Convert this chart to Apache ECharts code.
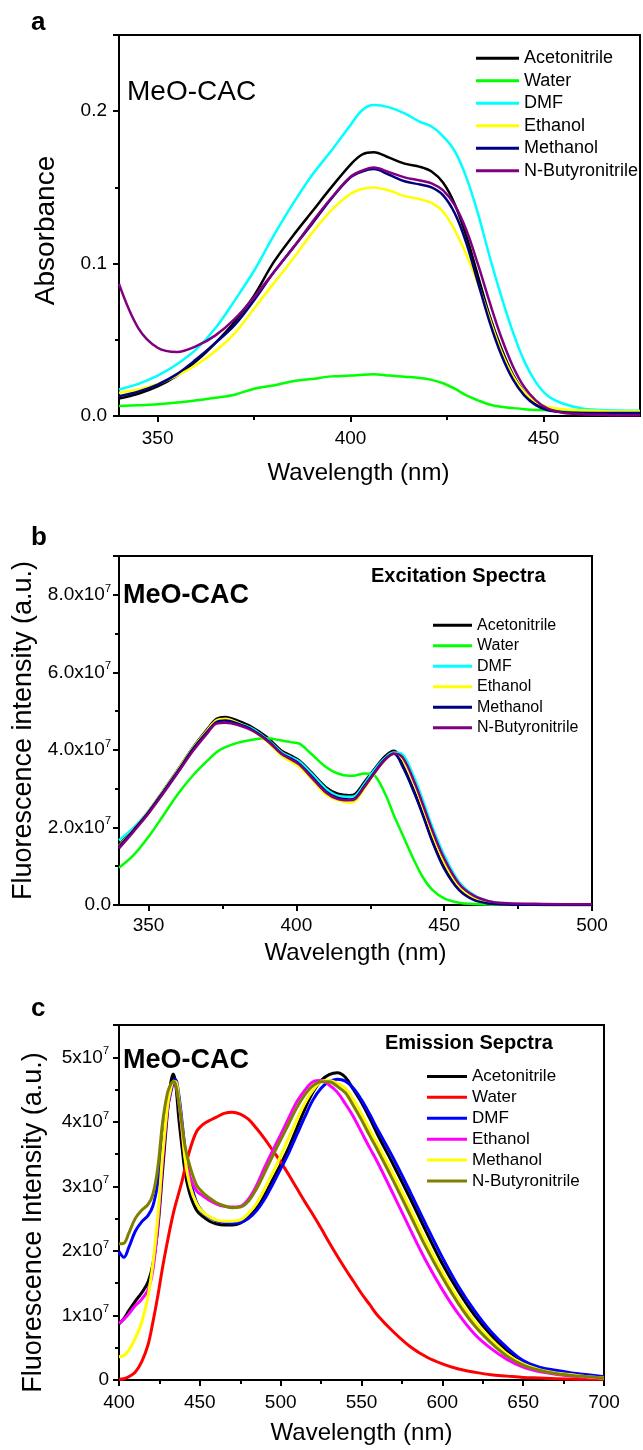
<!DOCTYPE html>
<html>
<head>
<meta charset="utf-8">
<script src="https://cdn.jsdelivr.net/npm/echarts@6/dist/echarts.min.js"></script>
<style>
  html, body { margin:0; padding:0; background:#fff; }
  #wrap { position:relative; width:643px; height:1450px; }
  .panel { position:absolute; left:0; width:643px; }
</style>
</head>
<body>
<div id="wrap">
  <div id="pa" class="panel" style="top:0;height:490px"></div>
  <div id="pb" class="panel" style="top:490px;height:480px"></div>
  <div id="pc" class="panel" style="top:970px;height:480px"></div>
</div>
<script>
// ---------- DATA ----------
const solvents = ['Acetonitrile', 'Water', 'DMF', 'Ethanol', 'Methanol', 'N-Butyronitrile'];

// Panel a: absorbance
const wlA = [340,345,350,355,360,365,370,375,380,385,390,395,400,403,406,410,414,418,421,424,427,430,433,436,439,442,445,448,451,455,460,465,470,475];
const absAcetonitrile = [0.0114,0.0146,0.0194,0.0265,0.036,0.048,0.062,0.079,0.1006,0.118,0.134,0.150,0.165,0.1716,0.1731,0.1695,0.1656,0.1635,0.1604,0.153,0.139,0.118,0.092,0.066,0.0448,0.0275,0.0157,0.0082,0.0043,0.0027,0.002,0.002,0.002,0.002];
const absWater = [0.0065,0.0071,0.0077,0.0088,0.0103,0.012,0.014,0.0179,0.02,0.0228,0.0243,0.026,0.0265,0.0271,0.0274,0.0265,0.0258,0.025,0.0237,0.0215,0.0179,0.0135,0.0103,0.0075,0.006,0.0052,0.0045,0.004,0.0038,0.0035,0.0033,0.0033,0.0033,0.0033];
const absDMF = [0.0174,0.0211,0.0265,0.034,0.0437,0.0577,0.0759,0.0953,0.118,0.139,0.158,0.174,0.191,0.2006,0.204,0.2025,0.1985,0.193,0.19,0.1835,0.1738,0.1566,0.133,0.105,0.079,0.0555,0.036,0.0222,0.0135,0.0082,0.005,0.004,0.0035,0.0033];
const absEthanol = [0.0153,0.0174,0.021,0.0265,0.0335,0.0426,0.0544,0.0706,0.0867,0.1028,0.12,0.135,0.1458,0.149,0.150,0.148,0.1443,0.1422,0.1398,0.134,0.122,0.106,0.0867,0.064,0.0426,0.0265,0.0157,0.0093,0.006,0.0045,0.0037,0.0033,0.003,0.003];
const absMethanol = [0.013,0.016,0.0206,0.0275,0.0372,0.048,0.0598,0.076,0.094,0.110,0.126,0.1426,0.1566,0.1604,0.162,0.1583,0.154,0.1519,0.150,0.1448,0.133,0.1135,0.0877,0.062,0.0405,0.0243,0.0135,0.0071,0.0039,0.0024,0.002,0.002,0.002,0.002];
const absButyronitrile = [0.0867,0.0577,0.0448,0.042,0.0458,0.0529,0.0637,0.078,0.094,0.110,0.127,0.143,0.157,0.161,0.163,0.160,0.1566,0.1545,0.1527,0.148,0.1383,0.122,0.0996,0.075,0.052,0.033,0.019,0.0103,0.005,0.0022,0.0012,0.0008,0.0005,0.0005];

// Panel b: excitation spectra (units of 1e7)
const wlB = [340,345,350,355,360,365,370,373,376,380,385,390,395,398,401,405,410,414,418,420,423,426,430,433,436,440,443,446,450,455,460,465,470,480,490,500];
const excAcetonitrile = [1.55,1.97,2.42,2.95,3.5,4.06,4.55,4.8,4.85,4.76,4.59,4.33,3.98,3.86,3.73,3.43,3.04,2.87,2.83,2.87,3.17,3.47,3.84,3.98,3.6,2.9,2.3,1.67,0.98,0.42,0.15,0.05,0.02,0.005,0,0];
const excWater = [0.96,1.29,1.76,2.31,2.87,3.34,3.73,3.94,4.07,4.18,4.26,4.3,4.24,4.2,4.16,3.9,3.56,3.39,3.33,3.34,3.39,3.36,2.87,2.31,1.8,1.12,0.69,0.39,0.17,0.06,0.025,0.01,0,0,0,0];
const excDMF = [1.67,2.0,2.42,2.93,3.48,4.04,4.5,4.74,4.78,4.7,4.55,4.28,3.94,3.82,3.7,3.4,3.0,2.82,2.79,2.82,3.12,3.44,3.79,3.93,3.88,3.26,2.66,2.01,1.29,0.6,0.26,0.1,0.04,0.01,0.005,0];
const excEthanol = [1.52,1.95,2.42,2.94,3.49,4.05,4.52,4.76,4.8,4.7,4.5,4.22,3.85,3.7,3.56,3.26,2.85,2.7,2.64,2.68,3.0,3.34,3.74,3.9,3.75,3.1,2.47,1.82,1.1,0.48,0.18,0.06,0.02,0.005,0,0];
const excMethanol = [1.5,1.94,2.4,2.92,3.46,4.02,4.48,4.72,4.76,4.68,4.52,4.26,3.9,3.78,3.64,3.33,2.93,2.76,2.72,2.76,3.06,3.38,3.76,3.9,3.56,2.87,2.27,1.63,0.94,0.39,0.13,0.04,0.014,0.005,0,0];
const excButyronitrile = [1.46,1.9,2.36,2.88,3.42,3.97,4.44,4.68,4.7,4.65,4.5,4.24,3.9,3.76,3.62,3.3,2.9,2.73,2.7,2.74,3.04,3.36,3.74,3.9,3.8,3.15,2.55,1.92,1.2,0.55,0.24,0.1,0.05,0.03,0.02,0.02];

// Panel c: emission spectra (units of 1e7)
const wlC = [400,403,406,410,414,418,421,424,427,430,432,433.5,435,437,439,441,444,448,452,456,460,465,470,475,480,485,490,495,500,505,510,515,520,525,530,535,540,545,550,555,560,570,580,590,600,610,620,630,640,650,660,670,680,690,700];
const emAcetonitrile = [0.87,0.95,1.07,1.22,1.35,1.52,1.8,2.35,3.25,4.15,4.6,4.74,4.6,4.05,3.6,3.2,2.87,2.63,2.53,2.46,2.42,2.4,2.4,2.43,2.52,2.66,2.86,3.1,3.34,3.6,3.9,4.2,4.46,4.64,4.73,4.76,4.69,4.5,4.3,4.06,3.8,3.32,2.82,2.3,1.8,1.37,1.0,0.7,0.46,0.29,0.18,0.13,0.09,0.06,0.04];
const emWater = [0.01,0.02,0.05,0.12,0.28,0.55,0.9,1.3,1.75,2.15,2.4,2.57,2.72,2.9,3.08,3.3,3.58,3.85,3.96,4.02,4.07,4.13,4.15,4.12,4.04,3.9,3.74,3.56,3.38,3.18,2.97,2.76,2.56,2.35,2.13,1.92,1.72,1.53,1.34,1.17,1.0,0.74,0.52,0.36,0.25,0.17,0.12,0.08,0.06,0.04,0.03,0.02,0.015,0.01,0.01];
const emDMF = [1.99,1.9,2.05,2.3,2.45,2.55,2.7,3.05,3.65,4.2,4.45,4.6,4.65,4.42,4.0,3.55,3.1,2.75,2.6,2.52,2.47,2.44,2.43,2.44,2.5,2.62,2.8,3.03,3.27,3.52,3.8,4.08,4.34,4.52,4.62,4.66,4.63,4.52,4.34,4.12,3.88,3.42,2.92,2.4,1.9,1.45,1.07,0.75,0.5,0.3,0.2,0.15,0.11,0.08,0.05];
const emEthanol = [0.88,0.94,1.02,1.15,1.25,1.4,1.71,2.4,3.4,4.2,4.5,4.6,4.58,4.3,3.85,3.44,3.14,2.93,2.85,2.78,2.73,2.69,2.68,2.69,2.8,3.01,3.29,3.55,3.8,4.06,4.31,4.49,4.62,4.64,4.57,4.46,4.28,4.08,3.84,3.6,3.37,2.86,2.34,1.84,1.4,1.02,0.71,0.49,0.32,0.2,0.13,0.09,0.06,0.04,0.03];
const emMethanol = [0.36,0.38,0.46,0.64,0.89,1.3,1.81,2.53,3.5,4.25,4.52,4.62,4.62,4.35,3.9,3.4,3.0,2.73,2.6,2.53,2.48,2.46,2.46,2.48,2.58,2.73,2.96,3.21,3.47,3.75,4.03,4.29,4.49,4.62,4.64,4.6,4.52,4.34,4.12,3.88,3.65,3.17,2.66,2.15,1.67,1.25,0.9,0.63,0.4,0.25,0.16,0.11,0.08,0.05,0.03];
const emButyronitrile = [2.11,2.12,2.27,2.5,2.63,2.72,2.88,3.29,4.0,4.45,4.58,4.62,4.58,4.3,3.95,3.6,3.3,3.02,2.9,2.82,2.75,2.7,2.67,2.68,2.77,2.96,3.21,3.47,3.72,3.97,4.22,4.42,4.56,4.62,4.62,4.55,4.45,4.25,4.03,3.79,3.56,3.07,2.56,2.05,1.59,1.18,0.84,0.58,0.37,0.23,0.15,0.1,0.07,0.05,0.03];

// tick labels
const xTicksA = [350, 400, 450];
const xMinorA = [375, 425];
const xTicksB = [350, 400, 450, 500];
const xMinorB = [375, 425, 475];

// ---------- STYLE ----------
const FONT = 'Liberation Sans, Arial, Helvetica, sans-serif';
const colorsAB = ['#000000', '#00ff00', '#00ffff', '#ffff00', '#000080', '#800080'];
const colorsC  = ['#000000', '#ff0000', '#0000ff', '#ff00ff', '#ffff00', '#808000'];

function zip(xs, ys) { return xs.map((x, i) => [x, ys[i]]); }
function mkSeries(wl, arrays, colors, width) {
  return arrays.map((arr, i) => ({
    name: solvents[i], type: 'line', data: zip(wl, arr),
    showSymbol: false, symbol: 'none', smooth: 0.35,
    color: colors[i],
    lineStyle: { color: colors[i], width: width },
    itemStyle: { color: colors[i] },
    z: 2 + i, silent: true
  }));
}
const axLine = { show: true, onZero: false, lineStyle: { color: '#000', width: 2 } };
const tickStyle = { color: '#000', width: 2 };
function supLabel(dec) {
  return {
    color: '#000', fontFamily: FONT, fontSize: 19, showMaxLabel: false,
    formatter: v => v === 0 ? (dec ? '{b|0.0}' : '{b|0}') : '{b|' + (dec ? v.toFixed(1) : String(v)) + 'x10}{s|7}',
    rich: {
      b: { fontSize: 19, fontFamily: FONT, color: '#000' },
      s: { fontSize: 11, fontFamily: FONT, color: '#000', padding: [0, 0, 12, 0] }
    }
  };
}
function legendCfg(left, top, iw, fs, lh) {
  return {
    orient: 'vertical', left: left, top: top, icon: 'rect',
    itemWidth: iw, itemHeight: 3, itemGap: 0, selectedMode: false,
    textStyle: { fontSize: fs, color: '#000', fontFamily: FONT, lineHeight: lh },
    data: solvents
  };
}
function txt(x, y, text, font) {
  return { type: 'text', x: x, y: y, silent: true,
    style: { text: text, font: font, fill: '#000', align: 'left', verticalAlign: 'middle' } };
}

// ---------- PANEL A ----------
const chartA = echarts.init(document.getElementById('pa'));
chartA.setOption({
  animation: false, backgroundColor: '#fff', textStyle: { fontFamily: FONT },
  grid: { left: 119, top: 35, width: 521, height: 388, show: true, borderColor: '#000', borderWidth: 2 },
  xAxis: [
    { type: 'value', min: 340, max: 475, position: 'bottom',
      axisLine: axLine, splitLine: { show: false },
      axisTick: { show: true, length: 6, lineStyle: tickStyle, customValues: xTicksA },
      axisLabel: { color: '#000', fontFamily: FONT, fontSize: 19, margin: 13, customValues: xTicksA },
      name: 'Wavelength (nm)', nameLocation: 'middle', nameGap: 45,
      nameTextStyle: { fontSize: 24, color: '#000', fontFamily: FONT, padding: [0, 42, 0, 0] } },
    { type: 'value', min: 340, max: 475, position: 'bottom',
      axisLine: { show: false }, splitLine: { show: false },
      axisTick: { show: true, length: 4, lineStyle: tickStyle, customValues: xMinorA },
      axisLabel: { show: false } }
  ],
  yAxis: {
    type: 'value', min: 0, max: 0.25, interval: 0.1,
    axisLine: axLine, splitLine: { show: false },
    axisTick: { show: true, length: 6, lineStyle: tickStyle },
    minorTick: { show: true, splitNumber: 2, length: 4, lineStyle: tickStyle },
    axisLabel: { color: '#000', fontFamily: FONT, fontSize: 19, margin: 12, showMaxLabel: false,
      formatter: v => v.toFixed(1) },
    name: 'Absorbance', nameLocation: 'middle', nameGap: 59, nameRotate: 90,
    nameTextStyle: { fontSize: 28, color: '#000', fontFamily: FONT, padding: [0, 10, 0, 0] }
  },
  legend: legendCfg(471, 42, 43, 18, 22.5),
  series: mkSeries(wlA, [absAcetonitrile, absWater, absDMF, absEthanol, absMethanol, absButyronitrile], colorsAB, 2.5),
  graphic: [
    txt(31, 23, 'a', 'bold 26px ' + FONT),
    txt(127, 92, 'MeO-CAC', '28px ' + FONT)
  ]
});

// ---------- PANEL B ----------
const chartB = echarts.init(document.getElementById('pb'));
chartB.setOption({
  animation: false, backgroundColor: '#fff', textStyle: { fontFamily: FONT },
  grid: { left: 119, top: 66, width: 473, height: 351, show: true, borderColor: '#000', borderWidth: 2 },
  xAxis: [
    { type: 'value', min: 340, max: 500, position: 'bottom',
      axisLine: axLine, splitLine: { show: false },
      axisTick: { show: true, length: 6, lineStyle: tickStyle, customValues: xTicksB },
      axisLabel: { color: '#000', fontFamily: FONT, fontSize: 19, margin: 11, customValues: xTicksB },
      name: 'Wavelength (nm)', nameLocation: 'middle', nameGap: 36,
      nameTextStyle: { fontSize: 24, color: '#000', fontFamily: FONT } },
    { type: 'value', min: 340, max: 500, position: 'bottom',
      axisLine: { show: false }, splitLine: { show: false },
      axisTick: { show: true, length: 4, lineStyle: tickStyle, customValues: xMinorB },
      axisLabel: { show: false } }
  ],
  yAxis: {
    type: 'value', min: 0, max: 9, interval: 2,
    axisLine: axLine, splitLine: { show: false },
    axisTick: { show: true, length: 6, lineStyle: tickStyle },
    minorTick: { show: true, splitNumber: 2, length: 4, lineStyle: tickStyle },
    axisLabel: Object.assign(supLabel(true), { margin: 8 }),
    name: 'Fluorescence intensity (a.u.)', nameLocation: 'middle', nameGap: 80, nameRotate: 90,
    nameTextStyle: { fontSize: 27, color: '#000', fontFamily: FONT }
  },
  legend: legendCfg(428, 120, 39, 16, 20.5),
  series: mkSeries(wlB, [excAcetonitrile, excWater, excDMF, excEthanol, excMethanol, excButyronitrile], colorsAB, 2.5),
  graphic: [
    txt(31, 48, 'b', 'bold 26px ' + FONT),
    txt(123, 106, 'MeO-CAC', 'bold 27px ' + FONT),
    txt(371, 86, 'Excitation Spectra', 'bold 20px ' + FONT)
  ]
});

// ---------- PANEL C ----------
const chartC = echarts.init(document.getElementById('pc'));
chartC.setOption({
  animation: false, backgroundColor: '#fff', textStyle: { fontFamily: FONT },
  grid: { left: 119, top: 55, width: 485, height: 360, show: true, borderColor: '#000', borderWidth: 2 },
  xAxis: {
    type: 'value', min: 400, max: 700, interval: 50,
    axisLine: axLine, splitLine: { show: false },
    axisTick: { show: true, length: 6, lineStyle: tickStyle },
    minorTick: { show: true, splitNumber: 2, length: 4, lineStyle: tickStyle },
    axisLabel: { color: '#000', fontFamily: FONT, fontSize: 19, margin: 13 },
    name: 'Wavelength (nm)', nameLocation: 'middle', nameGap: 41,
    nameTextStyle: { fontSize: 24, color: '#000', fontFamily: FONT }
  },
  yAxis: {
    type: 'value', min: 0, max: 5.5, interval: 1,
    axisLine: axLine, splitLine: { show: false },
    axisTick: { show: true, length: 6, lineStyle: tickStyle },
    minorTick: { show: true, splitNumber: 2, length: 4, lineStyle: tickStyle },
    axisLabel: Object.assign(supLabel(false), { margin: 10 }),
    name: 'Fluorescence Intensity (a.u.)', nameLocation: 'middle', nameGap: 72, nameRotate: 90,
    nameTextStyle: { fontSize: 27, color: '#000', fontFamily: FONT, padding: [0, 40, 0, 0] }
  },
  legend: legendCfg(422, 91, 40, 17, 20.9),
  series: mkSeries(wlC, [emAcetonitrile, emWater, emDMF, emEthanol, emMethanol, emButyronitrile], colorsC, 3),
  graphic: [
    txt(31, 39, 'c', 'bold 26px ' + FONT),
    txt(123, 91, 'MeO-CAC', 'bold 27px ' + FONT),
    txt(385, 73, 'Emission Sepctra', 'bold 20px ' + FONT)
  ]
});
</script>
</body>
</html>
